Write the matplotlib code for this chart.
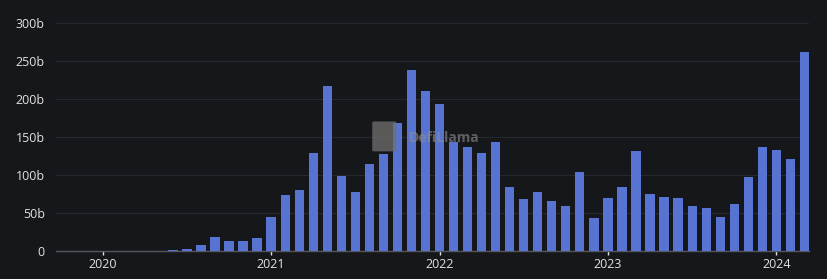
import matplotlib
matplotlib.use("Agg")
import matplotlib.pyplot as plt
from matplotlib.patches import FancyBboxPatch

# monthly volume in billions, Oct 2019 .. Mar 2024
start_month = 10
volume_b = [
    0.1, 0.1, 0.1,                                                      # 2019 Q4
    0.2, 0.2, 0.2, 0.3, 0.5, 1.2, 2.5, 7.5, 18.8, 12.7, 12.7, 16.7,     # 2020
    44.7, 74, 80, 128.5, 217, 98.7, 77, 115, 127, 168, 237.7, 210.5,    # 2021
    193.8, 143.8, 136.8, 128.5, 143.8, 83.8, 68, 78, 65.4, 59, 103.5, 43,  # 2022
    69.3, 83.8, 132, 75, 71.5, 69.7, 59.6, 56.6, 44.3, 61.8, 97.4, 136.8,  # 2023
    132.9, 121, 261.8,                                                  # 2024
]
year_labels = ["2020", "2021", "2022", "2023", "2024"]
y_ticks = [0, 50, 100, 150, 200, 250, 300]
y_labels = ["0", "50b", "100b", "150b", "200b", "250b", "300b"]

bg = "#16171b"
bar_color = "#5874d2"
text_color = "#e2e2e2"

plt.rcParams["font.family"] = ["Open Sans", "DejaVu Sans"]

fig = plt.figure(figsize=(8.28, 2.79), dpi=100, facecolor=bg)
ax = fig.add_axes([0.0676, 0.1004, 0.9095, 0.8172], facecolor=bg)

x = list(range(len(volume_b)))
ax.bar(x, volume_b, width=0.66, color=bar_color, zorder=3)

ax.set_xlim(-0.5 + 0.17, len(volume_b) - 1 + 0.33)
ax.set_ylim(0, 300)

# year ticks at January positions
jan_idx = [i for i in x if (start_month - 1 + i) % 12 == 0]
ax.set_xticks(jan_idx)
ax.set_xticklabels(year_labels)
ax.set_yticks(y_ticks)
ax.set_yticklabels(y_labels)

ax.tick_params(axis="x", colors=text_color, labelsize=9, length=3, width=1,
               direction="out", pad=2)
ax.tick_params(axis="y", colors=text_color, labelsize=9, length=0, pad=8)
for lbl in ax.get_xticklabels() + ax.get_yticklabels():
    lbl.set_color(text_color)

ax.grid(axis="y", color="#26282d", linewidth=0.8, zorder=0)
for side in ["top", "right", "left"]:
    ax.spines[side].set_visible(False)
ax.spines["bottom"].set_color("#55575c")
ax.spines["bottom"].set_linewidth(1)

# watermark
logo = FancyBboxPatch((0.423, 0.44), 0.026, 0.125, boxstyle="round,pad=0.003",
                      transform=ax.transAxes, facecolor="#707070", alpha=0.75,
                      edgecolor="none", zorder=4)
ax.add_patch(logo)
ax.text(0.468, 0.497, "DefiLlama", transform=ax.transAxes, color="#909090",
        alpha=0.6, fontsize=10, fontweight="bold", va="center", zorder=4)

fig.savefig("out.png", dpi=100, facecolor=bg)
